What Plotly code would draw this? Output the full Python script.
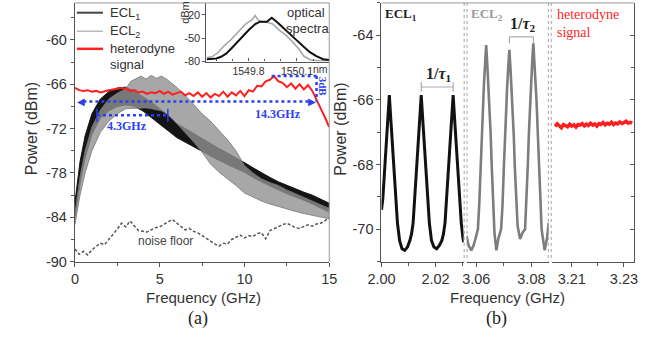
import plotly.graph_objects as go

W, H = 668, 338
def px(v): return v / W
def py(v): return 1 - v / H

SANS = "Liberation Sans, Arial, sans-serif"
SERIF = "Liberation Serif, Times New Roman, serif"
BLUE = "#2b3ef0"
RED = "#ff1f1f"

# ---------------- panel (a) data ----------------
ECL1_F = [0, 0.3, 0.6, 1.0, 1.5, 2.0, 2.5, 3.0, 3.5, 4.0, 4.5, 5.0, 5.5, 6.0, 6.5, 7.0,
          7.5, 8.0, 8.5, 9.0, 9.5, 10.0, 10.5, 11.0, 11.5, 12.0, 12.5, 13.0, 13.5, 14.0, 14.5, 15.0]
ECL1_UP = [-82.0, -76.5, -73.0, -70.0, -68.0, -67.0, -66.5, -66.4, -66.9, -67.6, -68.4, -69.3, -70.2, -71.3, -72.0, -72.7,
           -73.4, -74.0, -74.7, -75.3, -75.9, -76.6, -77.3, -78.0, -78.6, -79.2, -79.7, -80.1, -80.6, -81.0, -81.6, -82.1]
ECL1_LO = [-84.0, -79.5, -76.0, -72.8, -70.6, -69.6, -69.0, -68.8, -69.0, -69.6, -70.4, -71.4, -72.3, -73.2, -73.9, -74.5,
           -75.1, -75.7, -76.3, -76.9, -77.4, -77.9, -78.6, -79.2, -79.8, -80.3, -80.8, -81.3, -81.7, -82.2, -82.7, -83.3]

ECL2_F = [0, 0.3, 0.6, 1.0, 1.5, 2.0, 2.5, 3.0, 3.3, 3.6, 3.9, 4.2, 4.5, 4.8, 5.1, 5.4, 5.7, 6.0,
          6.5, 7.0, 7.5, 8.0, 8.5, 9.0, 9.5, 10.0, 10.5, 11.0, 11.5, 12.0, 12.5, 13.0, 13.5, 14.0, 14.5, 15.0]
ECL2_UP = [-83.5, -78.5, -75.0, -71.8, -69.5, -68.0, -67.2, -66.6, -65.6, -65.2, -64.9, -65.3, -64.8, -65.2, -64.9, -65.3, -65.8, -66.4,
           -67.5, -68.8, -70.0, -71.0, -72.2, -73.5, -75.0, -77.0, -78.0, -78.8, -79.3, -79.7, -80.3, -80.8, -81.3, -81.7, -82.3, -82.8]
ECL2_LO = [-85.0, -81.0, -78.0, -75.0, -72.5, -71.0, -70.0, -69.3, -69.2, -69.2, -69.2, -69.2, -69.3, -69.4, -69.6, -70.0, -70.6, -71.3,
           -72.5, -73.8, -75.2, -76.8, -77.9, -78.8, -79.7, -80.7, -81.3, -81.8, -82.2, -82.5, -82.9, -83.2, -83.5, -83.8, -84.0, -84.2]

GRID_A = [round(i * 0.25, 2) for i in range(61)]
HETERO_A = [-66.5, -66.8, -66.9, -66.8, -67.0,
            -66.9, -67.1, -66.9, -66.8, -66.7,
            -66.6, -66.5, -66.6, -66.9, -66.8,
            -67.1, -67.0, -67.3, -67.1, -67.2,
            -66.9, -67.3, -67.0, -67.4, -67.2,
            -67.0, -67.5, -67.2, -67.6, -67.1,
            -67.7, -67.2, -67.8, -67.3, -67.6,
            -67.0, -67.7, -67.1, -67.5, -66.9,
            -67.6, -66.8, -67.0, -66.2, -66.3,
            -65.6, -65.4, -64.9, -65.6, -65.8,
            -66.4, -65.9, -66.6, -66.0, -66.7,
            -66.1, -66.9, -68.0, -69.3, -70.5,
            -71.8]
NOISE_A = [-88.3, -89.0, -88.6, -89.1, -88.4,
           -88.0, -87.5, -87.7, -87.0, -86.4,
           -85.6, -84.8, -85.3, -84.5, -85.2,
           -85.8, -85.9, -86.0, -85.7, -85.4,
           -85.3, -84.9, -84.6, -84.3, -84.8,
           -85.2, -85.7, -85.5, -85.9, -86.1,
           -86.5, -86.8, -87.3, -87.6, -87.9,
           -87.5, -87.6, -87.0, -86.7, -86.4,
           -86.8, -86.5, -86.6, -86.2, -86.1,
           -86.9, -85.8, -85.5, -85.3, -85.0,
           -84.8, -85.1, -85.4, -85.5, -85.2,
           -85.0, -85.2, -84.9, -84.8, -84.5,
           -84.1]

# inset optical spectra
INSET_GREY_WL = [1549.542, 1549.572, 1549.61, 1549.644, 1549.692, 1549.74, 1549.782, 1549.824, 1549.842, 1549.86,
                 1549.884, 1549.92, 1549.95, 1549.992, 1550.03, 1550.064, 1550.112, 1550.142, 1550.184, 1550.232, 1550.30]
INSET_GREY_DB = [-75, -74, -69, -61, -52, -41, -32, -26, -21, -27,
                 -29.5, -30, -32, -40, -46, -53, -64, -73, -78, -79, -79]
INSET_BLACK_WL = [1549.542, 1549.602, 1549.63, 1549.662, 1549.70, 1549.74, 1549.80, 1549.842, 1549.872, 1549.914,
                  1549.944, 1549.98, 1550.04, 1550.094, 1550.142, 1550.18, 1550.22, 1550.262, 1550.30]
INSET_BLACK_DB = [-77, -76, -74, -70, -62, -53, -40, -32, -29, -29,
                  -24, -30, -41, -52, -61, -68, -73, -77, -78]

# ---------------- panel (b) data ----------------
B1_F = [2.0000, 2.0005, 2.0011, 2.0017, 2.0021, 2.0025, 2.0029, 2.0033, 2.0037, 2.0041, 2.0047, 2.0053, 2.0059,
        2.0067, 2.0076, 2.0086, 2.0096, 2.0105, 2.0111, 2.0117, 2.0123, 2.0129, 2.0135, 2.0139, 2.0143, 2.0147,
        2.0151, 2.0155, 2.0159, 2.0165, 2.0171, 2.0177, 2.0185, 2.0194, 2.0204, 2.0214, 2.0223, 2.0229, 2.0235,
        2.0241, 2.0247, 2.0253, 2.0257, 2.0261, 2.0265, 2.0269, 2.0273, 2.0277, 2.0283, 2.0289, 2.0295, 2.0301, 2.0304]
B1_P = [-69.4, -69.05, -68.25, -67.5, -66.95, -66.4, -65.85, -66.4, -66.95, -67.5, -68.25, -69.05, -69.8,
        -70.35, -70.6, -70.65, -70.55, -70.35, -70.15, -69.8, -69.05, -68.25, -67.5, -66.95, -66.4, -65.85,
        -66.4, -66.95, -67.5, -68.25, -69.05, -69.8, -70.35, -70.55, -70.6, -70.5, -70.35, -70.15, -69.8,
        -69.05, -68.25, -67.5, -66.95, -66.4, -65.85, -66.4, -66.95, -67.5, -68.25, -69.05, -69.8, -70.25, -70.4]

B2_F = [3.0565, 3.0572, 3.0582, 3.0590, 3.0597, 3.0606, 3.0611, 3.0616, 3.0620, 3.0624, 3.0628, 3.0632, 3.0636,
        3.0640, 3.0644, 3.0648, 3.0652, 3.0656, 3.0661, 3.0666, 3.0673, 3.0680, 3.0690, 3.0695, 3.0700, 3.0704,
        3.0708, 3.0712, 3.0716, 3.0720, 3.0724, 3.0728, 3.0732, 3.0736, 3.0740, 3.0745, 3.0750, 3.0759, 3.0768,
        3.0777, 3.0782, 3.0787, 3.0791, 3.0795, 3.0799, 3.0803, 3.0807, 3.0811, 3.0815, 3.0819, 3.0823, 3.0827,
        3.0832, 3.0837, 3.0848, 3.0856, 3.0863]
B2_P = [-70.2, -70.5, -70.65, -70.5, -70.3, -70.0, -69.2, -68.0, -67.0, -66.2, -65.5, -64.9, -64.3,
        -64.9, -65.5, -66.2, -67.0, -68.0, -69.2, -70.1, -70.65, -70.3, -70.0, -69.3, -68.1, -67.1,
        -66.3, -65.6, -65.0, -64.45, -65.0, -65.6, -66.3, -67.1, -68.1, -69.2, -69.9, -70.3, -70.1,
        -70.0, -69.2, -68.0, -67.0, -66.1, -65.4, -64.8, -64.25, -64.8, -65.4, -66.1, -67.0, -68.0,
        -69.2, -70.0, -70.65, -70.3, -69.8]

B3_F = [round(3.2036 + i * 0.0008, 4) for i in range(38)]
B3_P = [-66.82, -66.74, -66.80, -66.86, -66.76, -66.79, -66.83, -66.75, -66.81, -66.77,
        -66.84, -66.76, -66.78, -66.73, -66.80, -66.75, -66.79, -66.72, -66.78, -66.74,
        -66.81, -66.73, -66.76, -66.70, -66.77, -66.72, -66.75, -66.69, -66.76, -66.71,
        -66.74, -66.68, -66.73, -66.70, -66.66, -66.72, -66.69, -66.71]

A_YTICKS = [-90, -84, -78, -72, -66, -60]
A_XTICKS = [0, 5, 10, 15]
B_YTICKS = [-70, -68, -66, -64]

fig = go.Figure()

# panel (a)
fig.add_trace(go.Scatter(x=ECL1_F + ECL1_F[::-1], y=ECL1_UP + ECL1_LO[::-1], fill="toself",
                         fillcolor="#141414", line=dict(color="#141414", width=1), mode="lines",
                         xaxis="x", yaxis="y"))
fig.add_trace(go.Scatter(x=ECL2_F + ECL2_F[::-1], y=ECL2_UP + ECL2_LO[::-1], fill="toself",
                         fillcolor="rgba(145,145,145,0.80)", line=dict(color="rgba(120,120,120,0.8)", width=1),
                         mode="lines", xaxis="x", yaxis="y"))
fig.add_trace(go.Scatter(x=GRID_A, y=NOISE_A, mode="lines",
                         line=dict(color="#555", width=1.5, dash="3px,2px"), xaxis="x", yaxis="y"))
fig.add_trace(go.Scatter(x=GRID_A, y=HETERO_A, mode="lines",
                         line=dict(color=RED, width=2), xaxis="x", yaxis="y"))
# inset
fig.add_trace(go.Scatter(x=INSET_GREY_WL, y=INSET_GREY_DB, mode="lines",
                         line=dict(color="#a8a8a8", width=1.6), xaxis="x2", yaxis="y2"))
fig.add_trace(go.Scatter(x=INSET_BLACK_WL, y=INSET_BLACK_DB, mode="lines",
                         line=dict(color="#111", width=2), xaxis="x2", yaxis="y2"))
# panel (b)
fig.add_trace(go.Scatter(x=B1_F, y=B1_P, mode="lines", line=dict(color="#111", width=3),
                         xaxis="x3", yaxis="y3"))
fig.add_trace(go.Scatter(x=B2_F, y=B2_P, mode="lines", line=dict(color="#7d7d7d", width=2.6),
                         xaxis="x4", yaxis="y4"))
fig.add_trace(go.Scatter(x=B3_F, y=B3_P, mode="lines", line=dict(color=RED, width=3.5),
                         xaxis="x5", yaxis="y5"))

AX = dict(showgrid=False, zeroline=False, showline=True, linecolor="#555", linewidth=1.2,
          tickcolor="#555", tickfont=dict(family=SANS, size=14.5, color="#333"))

def fmt(v):
    return ("-" if v < 0 else "") + str(abs(v))

fig.update_layout(
    width=W, height=H, margin=dict(l=0, r=0, t=0, b=0), autosize=False,
    paper_bgcolor="white", plot_bgcolor="white", showlegend=False, hovermode=False,
    xaxis=dict(AX, domain=[px(63), px(326)], range=[0, 15], anchor="y",
               tickvals=A_XTICKS, ticktext=[str(v) for v in A_XTICKS], ticks="outside", ticklen=4,
               minor=dict(tickvals=[2.5, 7.5, 12.5], ticks="outside", ticklen=3, tickcolor="#555")),
    yaxis=dict(AX, domain=[py(268), py(3)], range=[-90, -55], anchor="x",
               tickvals=A_YTICKS, ticktext=[fmt(v) for v in A_YTICKS], ticks="outside", ticklen=4,
               minor=dict(tickvals=[-87, -81, -75, -69, -63, -57], ticks="outside", ticklen=3, tickcolor="#555")),
    xaxis2=dict(AX, domain=[px(199), px(326)], range=[1549.54, 1550.30], anchor="y2",
                tickvals=[1549.8, 1550.1], ticktext=["1549.8", "1550.1"], ticks="inside", ticklen=3,
                tickfont=dict(family=SANS, size=10.5, color="#333"),
                minor=dict(tickvals=[1549.6, 1549.7, 1549.9, 1550.0, 1550.2], ticks="inside", ticklen=2)),
    yaxis2=dict(AX, domain=[py(63), py(3)], range=[-80, -5], anchor="x2",
                tickvals=[-80, -50, -20], ticktext=["-80", "-50", "-20"], ticks="outside", ticklen=3,
                tickfont=dict(family=SANS, size=11, color="#333")),
    xaxis3=dict(AX, domain=[px(380), px(465)], range=[2.0, 2.0304], anchor="y3",
                tickvals=[2.0, 2.02], ticktext=["2.00", "2.02"], ticks="outside", ticklen=4,
                minor=dict(tickvals=[2.01, 2.03], ticks="outside", ticklen=3, tickcolor="#555")),
    yaxis3=dict(AX, domain=[py(268), py(3)], range=[-71, -63], anchor="x3",
                tickvals=B_YTICKS, ticktext=[fmt(v) for v in B_YTICKS], ticks="outside", ticklen=4,
                minor=dict(tickvals=[-71, -69, -67, -65, -63], ticks="outside", ticklen=3, tickcolor="#555")),
    xaxis4=dict(AX, domain=[px(468), px(553)], range=[3.0565, 3.0863], anchor="y4",
                tickvals=[3.06, 3.08], ticktext=["3.06", "3.08"], ticks="outside", ticklen=4,
                minor=dict(tickvals=[3.07], ticks="outside", ticklen=3, tickcolor="#555")),
    yaxis4=dict(domain=[py(268), py(3)], range=[-71, -63], anchor="x4", visible=False),
    xaxis5=dict(AX, domain=[px(556), px(641)], range=[3.2023, 3.2338], anchor="y5",
                tickvals=[3.21, 3.23], ticktext=["3.21", "3.23"], ticks="outside", ticklen=4,
                minor=dict(tickvals=[3.22], ticks="outside", ticklen=3, tickcolor="#555")),
    yaxis5=dict(AX, domain=[py(268), py(3)], range=[-71, -63], anchor="x5", side="right",
                tickvals=B_YTICKS, ticks="inside", ticklen=4, showticklabels=False,
                minor=dict(tickvals=[-71, -69, -67, -65, -63], ticks="inside", ticklen=3, tickcolor="#555")),
)

shapes = []
def pline(x0, y0, x1, y1, color="#999", width=1, dash=None):
    shapes.append(dict(type="line", xref="paper", yref="paper", x0=px(x0), y0=py(y0), x1=px(x1), y1=py(y1),
                       line=dict(color=color, width=width, dash=dash)))
# frames
pline(63, 3, 326, 3); pline(326, 3, 326, 268)
pline(380, 3, 641, 3)
for xs in (465.5, 468.5, 552.5, 555.5):
    pline(xs, 3, xs, 268, color="#a0a0a0", width=1, dash="dot")
# legend of (a)
pline(65, 13, 92, 13, color="#444", width=2)
pline(65, 32, 92, 32, color="#bbb", width=1.5)
pline(65, 50, 92, 50, color=RED, width=2.5)

def dline(x0, y0, x1, y1, color=BLUE, width=2.5, dash="dot", xr="x", yr="y"):
    shapes.append(dict(type="line", xref=xr, yref=yr, x0=x0, y0=y0, x1=x1, y1=y1,
                       line=dict(color=color, width=width, dash=dash)))
# blue annotations in (a)
dline(0.5, -68.35, 13.9, -68.35)
dline(14.25, -64.9, 14.25, -68.35)
dline(11.6, -64.9, 14.3, -64.9)
dline(1.3, -70.2, 5.48, -70.2)
dline(1.3, -69.3, 1.3, -71.1, width=1.5, dash=None)
dline(5.48, -69.3, 5.48, -71.1, width=1.5, dash=None)
# brackets in (b)
dline(2.0147, -65.6, 2.0265, -65.6, color="#aaa", width=1, dash=None, xr="x3", yr="y3")
dline(2.0147, -65.45, 2.0147, -65.75, color="#999", width=1, dash=None, xr="x3", yr="y3")
dline(2.0265, -65.45, 2.0265, -65.75, color="#999", width=1, dash=None, xr="x3", yr="y3")
dline(3.0720, -64.05, 3.0807, -64.05, color="#999", width=1, dash=None, xr="x4", yr="y4")
dline(3.0720, -64.05, 3.0720, -64.25, color="#999", width=1, dash=None, xr="x4", yr="y4")
dline(3.0807, -64.05, 3.0807, -64.25, color="#999", width=1, dash=None, xr="x4", yr="y4")
fig.update_layout(shapes=shapes)

ann = []
def ptext(text, x, y, size, family=SANS, color="#333", angle=0, xanchor="center"):
    ann.append(dict(text=text, x=px(x), y=py(y), xref="paper", yref="paper", showarrow=False,
                    font=dict(family=family, size=size, color=color), textangle=angle, xanchor=xanchor,
                    yanchor="middle"))
def dtext(text, x, y, size, xr="x", yr="y", family=SERIF, color=BLUE, angle=0, xanchor="center"):
    ann.append(dict(text=text, x=x, y=y, xref=xr, yref=yr, showarrow=False,
                    font=dict(family=family, size=size, color=color), textangle=angle, xanchor=xanchor,
                    yanchor="middle"))

ptext("Frequency (GHz)", 196, 305, 15)
ptext("(a)", 190, 326, 18, family=SERIF, color="#222")
ptext("Power (dBm)", 19, 132, 16, angle=-90)
ptext("Frequency (GHz)", 510, 305, 15)
ptext("(b)", 499, 326, 18, family=SERIF, color="#222")
ptext("Power (dBm)", 338, 132, 16, angle=-90)
ptext("ECL<sub>1</sub>", 97, 14, 13, xanchor="left")
ptext("ECL<sub>2</sub>", 97, 32, 13, xanchor="left")
ptext("heterodyne", 97, 50, 13, xanchor="left")
ptext("signal", 97, 66, 13, xanchor="left")
ptext("optical", 302, 13, 13)
ptext("spectra", 304, 29, 13)
ptext("dBm", 177, 13, 11, angle=-90)
ptext("nm", 307, 71, 10.5, xanchor="left")
ptext("noise floor", 157, 247, 12, color="#444")
ptext("<b>ECL<sub>1</sub></b>", 382, 15, 13, family=SERIF, color="#222", xanchor="left")
ptext("<b>ECL<sub>2</sub></b>", 471, 15, 13, family=SERIF, color="#999", xanchor="left")
ptext("heterodyne", 559, 15, 14, family=SERIF, color=RED, xanchor="left")
ptext("signal", 559, 33, 14, family=SERIF, color=RED, xanchor="left")

dtext("<b>4.3GHz</b>", 3.05, -71.6, 12)
dtext("<b>14.3GHz</b>", 12.0, -70.0, 12)
dtext("<b>3dB</b>", 14.62, -66.3, 11, angle=90)
dtext("<b>1/<i>τ</i><sub>1</sub></b>", 2.0212, -65.2, 16, xr="x3", yr="y3", color="#222")
dtext("<b>1/<i>τ</i><sub>2</sub></b>", 3.0768, -63.66, 16, xr="x4", yr="y4", color="#222")
# arrowheads of the blue double arrow
dtext("◀", 0.33, -68.35, 10, family="DejaVu Sans")
dtext("▶", 13.98, -68.35, 10, family="DejaVu Sans")

fig.update_layout(annotations=ann)
fig.write_html("out.html")
